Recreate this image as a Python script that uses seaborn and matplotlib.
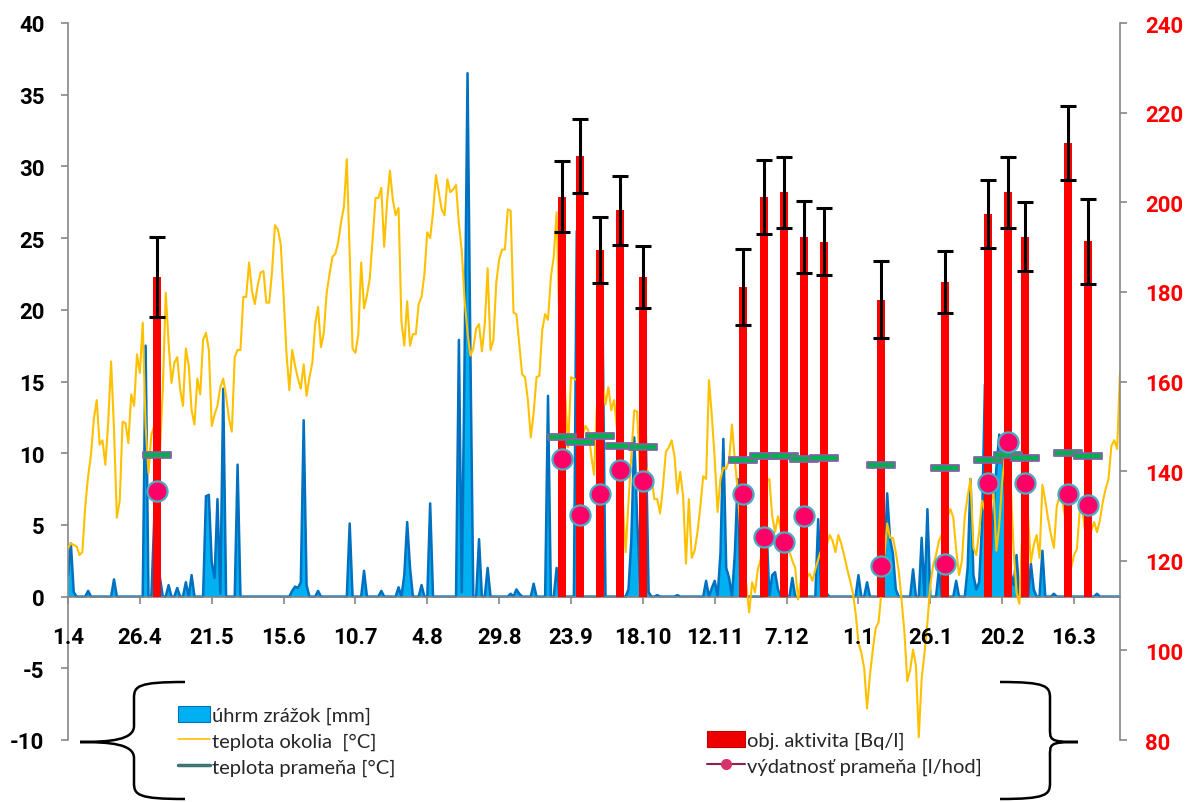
import numpy as np
import pandas as pd
import matplotlib
matplotlib.use("Agg")
import matplotlib.pyplot as plt
import seaborn as sns
from matplotlib.path import Path
from matplotlib.patches import PathPatch, Patch
from matplotlib.lines import Line2D

# ---------------- data ----------------
tick_labels = ["1.4", "26.4", "21.5", "15.6", "10.7", "4.8", "29.8", "23.9",
               "18.10", "12.11", "7.12", "1.1", "26.1", "20.2", "16.3"]
tick_days = [0, 25, 50, 75, 100, 125, 150, 175, 200, 225, 250, 275, 300, 325, 350]

# daily air temperature (teplota okolia), day 0 = 1.4
temp_air = [
    3.4, 3.7, 3.6, 3.5, 2.9, 3.1, 6.3, 8.4, 9.9, 12.4,
    13.7, 10.6, 10.9, 9.2, 12.2, 16.4, 11.7, 5.5, 6.7, 12.2,
    12.1, 10.7, 14.1, 13.3, 16.9, 15.6, 19.1, 11.9, 8.6, 11.3,
    11.9, 10.6, 10.2, 14.5, 21.2, 17.7, 14.9, 16.3, 16.7, 14.5,
    13.3, 17.3, 16.1, 13.0, 12.0, 15.2, 14.1, 17.9, 18.4, 17.2,
    11.9, 12.7, 13.3, 14.6, 15.2, 14.0, 12.4, 11.5, 16.7, 17.2,
    17.2, 20.9, 20.9, 23.3, 21.3, 20.4, 21.7, 22.6, 22.7, 20.5,
    20.5, 22.7, 25.9, 25.6, 24.6, 21.0, 17.0, 14.4, 17.2, 16.1,
    15.2, 14.5, 16.2, 14.0, 15.3, 16.3, 19.0, 20.2, 17.4, 18.4,
    21.2, 22.5, 23.7, 23.9, 24.7, 26.1, 27.2, 30.5, 23.8, 17.3,
    17.0, 18.3, 23.3, 20.1, 21.0, 22.2, 25.0, 27.8, 27.8, 28.5,
    24.4, 27.5, 29.7, 27.7, 26.6, 27.1, 19.2, 17.5, 20.6, 17.5,
    18.3, 18.3, 20.4, 20.9, 22.5, 25.4, 25.0, 26.8, 29.4, 28.2,
    27.0, 26.6, 29.1, 28.2, 28.4, 28.7, 26.0, 24.1, 20.6, 18.4,
    16.8, 17.3, 18.7, 19.0, 17.1, 19.0, 22.9, 17.2, 17.9, 21.9,
    23.5, 24.2, 24.2, 27.0, 26.9, 19.8, 19.7, 17.6, 15.5, 15.3,
    13.7, 11.1, 12.8, 15.3, 15.4, 18.6, 19.7, 19.3, 22.3, 23.7,
    26.8, 18.6, 17.7, 14.0, 10.4, 15.3, 15.2, 15.1, 13.4, 11.2,
    11.9, 11.6, 9.9, 8.5, 13.3, 16.2, 15.0, 13.4, 14.6, 13.0,
    13.7, 11.7, 9.6, 6.8, 3.1, 6.6, 9.9, 13.0, 12.9, 8.7,
    9.4, 9.1, 8.6, 8.3, 6.8, 6.8, 5.8, 7.7, 10.1, 10.4,
    10.9, 9.8, 7.2, 8.7, 7.0, 2.3, 6.8, 2.7, 3.2, 4.5,
    6.3, 8.4, 8.2, 15.1, 12.6, 9.6, 5.9, 8.2, 9.0, 8.9,
    9.5, 12.0, 9.5, 7.4, 4.4, 2.2, 0.8, -1.1, 1.0, 0.3,
    1.9, 2.6, 4.3, 8.0, 8.2, 5.6, 4.5, 5.6, 4.7, 4.3,
    3.6, 3.1, 2.5, 2.0, -0.2, 1.2, 1.5, 1.3, 1.6, 1.1,
    1.9, 2.6, 3.2, 2.8, 3.6, 4.3, 3.9, 3.1, 4.3, 3.7,
    2.9, 2.0, 1.2, 0.3, -1.1, -3.2, -3.9, -5.0, -7.8, -5.5,
    -3.7, -2.2, -1.8, 0.3, 2.6, 5.1, 4.1, 4.1, 3.1, 1.8,
    -0.2, -2.5, -5.9, -5.1, -3.7, -4.8, -9.8, -5.7, -3.9, -1.8,
    0.8, 2.2, 2.9, 3.9, 4.3, 4.8, 5.6, 6.1, 5.5, 3.3,
    1.5, 2.5, 5.6, 7.0, 8.2, 3.4, 2.9, 4.5, 6.7, 6.0,
    4.3, 6.6, 7.3, 3.2, 5.0, 8.0, 10.0, 11.5, 7.7, 3.2,
    0.3, -0.5, 4.5, 7.8, 5.6, 2.4, 3.6, 4.3, 2.7, 7.8,
    6.7, 5.4, 4.3, 3.4, 6.3, 7.0, 6.6, 5.4, 3.6, 2.0,
    2.9, 3.3, 6.0, 5.9, 4.3, 5.5, 4.6, 5.2, 4.5, 5.3,
    6.6, 7.5, 8.2, 10.5, 10.9, 10.3, 15.6,
]

# precipitation (úhrm zrážok) - days with rain and amount [mm]; other days 0
rain_days = [0, 1, 2, 7, 16, 27, 30, 32, 35, 38, 41, 43, 48, 49, 50, 51, 52, 53, 54, 59,
             78, 79, 80, 81, 82, 83, 87, 98, 103, 109, 115, 117, 118, 119, 123, 126,
             136, 137, 138, 139, 140, 143, 146, 154, 156, 157, 162, 167, 170, 177, 186,
             195, 196, 197, 198, 199, 200, 201, 202, 205, 212, 222, 224, 225, 227, 228,
             229, 230, 232, 233, 234, 243, 245, 246, 247, 252, 261, 262, 264, 275, 278,
             284, 285, 286, 287, 288, 294, 297, 299, 303, 309, 313, 314, 315, 316, 317,
             318, 319, 320, 321, 322, 323, 324, 325, 326, 327, 328, 329, 330, 335, 336,
             339, 343, 348, 358]
rain_mm = [1.5, 3.7, 0.3, 0.4, 1.2, 17.5, 5.4, 1.3, 0.8, 0.6, 1.0, 1.5, 7.0, 7.1, 2.4, 1.3, 6.8, 0.2, 14.5, 9.2,
           0.4, 0.7, 0.6, 1.0, 12.3, 0.8, 0.4, 5.1, 1.8, 0.4, 0.65, 1.5, 5.2, 2.0, 0.8, 6.5,
           17.9, 0.3, 17.0, 36.5, 17.0, 4.0, 2.0, 0.2, 0.5, 0.2, 0.9, 14.0, 2.0, 25.5, 19.0,
           0.5, 4.0, 11.1, 5.5, 1.0, 2.0, 11.5, 0.3, 0.1, 0.1, 1.1, 0.6, 1.1, 3.0, 11.0,
           2.0, 1.3, 3.0, 8.2, 0.5, 5.0, 1.5, 1.7, 0.5, 1.3, 5.4, 0.5, 0.2, 1.5, 1.0,
           2.0, 7.2, 4.0, 3.0, 0.5, 1.9, 4.1, 6.1, 1.9, 1.1, 2.0, 8.2, 1.5, 0.5, 1.0,
           5.0, 14.8, 4.0, 2.5, 6.0, 9.0, 11.3, 10.5, 7.0, 8.4, 1.6, 0.8, 2.9, 2.3, 0.5,
           3.2, 0.2, 0.3, 0.2]

# measurement days (spring)
meas_days = [31, 172, 178, 185, 192, 200, 235, 242, 249, 256, 263, 283, 305, 320, 327, 333, 348, 355]
activity = [183.3, 201.2, 210.3, 189.3, 198.2, 183.3, 181.1, 201.2, 202.2, 192.3, 191.2,
            178.2, 182.2, 197.3, 202.2, 192.3, 213.2, 191.3]
activity_err = [9.0, 7.9, 8.3, 7.4, 7.7, 7.0, 8.5, 8.3, 8.0, 8.0, 7.5, 8.6, 7.0, 7.6, 7.9, 7.7, 8.3, 9.5]
spring_temp = [9.9, 11.1, 10.8, 11.2, 10.5, 10.4, 9.5, 9.8, 9.8, 9.6, 9.7, 9.2, 9.0, 9.5, 9.9, 9.7, 10.0, 9.8]
spring_yield = [135.5, 142.8, 130.1, 134.9, 140.3, 137.9, 134.9, 125.3, 124.2, 130.0, np.nan,
                118.8, 119.2, 137.4, 146.4, 137.3, 134.9, 132.5]

# ---------------- style ----------------
sns.set_theme(style="white")
plt.rcParams['font.family'] = ['Lato', 'DejaVu Sans']
plt.rcParams['axes.unicode_minus'] = False

C_RAIN = "#00B0F0"
C_RAIN_EDGE = "#0070C0"
C_AIR = "#FFC000"
C_BAR = "#FF0000"
C_SPR_FACE = "#00B050"
C_SPR_EDGE = "#8064A2"
C_DOT = "#FF0066"
C_DOT_EDGE = "#4BACC6"
C_AXIS = "#868686"

L_MIN, L_MAX = -10, 40
R_MIN, R_MAX = 80, 240
X_MAX = len(temp_air) - 1

TICK_FONT = dict(fontfamily="Roboto", fontweight="bold", fontsize=16)

W, H = 1190, 803
fig = plt.figure(figsize=(W / 100, H / 100), dpi=100)
ax1 = fig.add_axes([68 / W, 1 - 741 / H, (1120 - 68) / W, (741 - 24) / H])

days = np.arange(len(temp_air))
rain = np.zeros(len(days))
rain[np.array(rain_days)] = rain_mm

df = pd.DataFrame({"day": days, "temp": temp_air, "rain": rain})

# precipitation area
ax1.fill_between(df["day"], df["rain"], 0, color=C_RAIN, linewidth=0, zorder=1)
sns.lineplot(data=df, x="day", y="rain", ax=ax1, color=C_RAIN_EDGE, linewidth=1.8,
             estimator=None, zorder=2)
# air temperature
sns.lineplot(data=df, x="day", y="temp", ax=ax1, color=C_AIR, linewidth=1.5,
             estimator=None, zorder=3)

ax1.set_xlim(0, X_MAX)
ax1.set_ylim(L_MIN, L_MAX)
ax1.set_xlabel("")
ax1.set_ylabel("")
for s in ["top", "right"]:
    ax1.spines[s].set_visible(False)
ax1.spines["bottom"].set_position(("data", 0))
for s in ["left", "bottom"]:
    ax1.spines[s].set_color(C_AXIS)
    ax1.spines[s].set_linewidth(1.2)
yt = np.arange(L_MIN, L_MAX + 1, 5)
ax1.set_yticks(yt)
ax1.set_yticklabels([str(v) for v in yt], color="black", **TICK_FONT)
ax1.set_xticks(tick_days)
ax1.set_xticklabels([])
# date labels, placed well below the zero line
for d, lab in zip(tick_days, tick_labels):
    ax1.annotate(lab, xy=(d, 0), xycoords="data", xytext=(0, -27.5),
                 textcoords="offset points", ha="center", va="center_baseline",
                 color="black", annotation_clip=False, **TICK_FONT)
ax1.grid(False)

# activity bars on right axis
ax2 = ax1.twinx()
bar_base = R_MIN + (0 - L_MIN) * (R_MAX - R_MIN) / (L_MAX - L_MIN)
ax2.bar(meas_days, np.array(activity) - bar_base, bottom=bar_base, width=2.8,
        color=C_BAR, linewidth=0, zorder=2)
ax2.errorbar(meas_days, activity, yerr=activity_err, fmt="none", ecolor="black",
             elinewidth=2.2, capsize=6, capthick=2.2, zorder=3)
ax2.set_ylim(R_MIN, R_MAX)
rt = np.arange(R_MIN, R_MAX + 1, 20)
ax2.set_yticks(rt)
ax2.set_yticklabels([str(v) for v in rt], color="#FF0000", **TICK_FONT)
for s in ["top", "left", "bottom"]:
    ax2.spines[s].set_visible(False)
ax2.spines["right"].set_color(C_AXIS)
ax2.spines["right"].set_linewidth(1.2)
ax2.grid(False)

# spring temperature markers (left scale)
ax3 = ax1.twinx()
rect = Path([(-1, -0.2), (1, -0.2), (1, 0.2), (-1, 0.2), (-1, -0.2)],
            [Path.MOVETO, Path.LINETO, Path.LINETO, Path.LINETO, Path.CLOSEPOLY])
sns.scatterplot(x=meas_days, y=spring_temp, ax=ax3, marker=rect, s=420,
                color=C_SPR_FACE, edgecolor=C_SPR_EDGE, linewidth=1.3, zorder=4)
ax3.set_ylim(L_MIN, L_MAX)
ax3.set_xlim(0, X_MAX)
ax3.axis("off")

# spring yield dots (right scale)
ax4 = ax1.twinx()
sns.scatterplot(x=meas_days, y=spring_yield, ax=ax4, marker="o", s=210,
                color=C_DOT, edgecolor=C_DOT_EDGE, linewidth=1.6, zorder=5)
ax4.set_ylim(R_MIN, R_MAX)
ax4.set_xlim(0, X_MAX)
ax4.axis("off")

# tick geometry
ax1.tick_params(axis="y", which="major", direction="out", length=5, width=1.2,
                color=C_AXIS, pad=12, left=True)
ax1.tick_params(axis="x", which="major", direction="out", length=5, width=1.2,
                color=C_AXIS, bottom=True)
ax2.tick_params(axis="y", direction="out", length=5, width=1.2, color=C_AXIS,
                pad=13, right=True)

# ---------------- legends ----------------
h_left = [Patch(facecolor=C_RAIN, edgecolor=C_RAIN_EDGE, linewidth=0.8),
          Line2D([], [], color=C_AIR, linewidth=1.2),
          Line2D([], [], color="#3E7473", linewidth=2.5)]
l_left = ["úhrm zrážok [mm]", "teplota okolia  [°C]", "teplota prameňa [°C]"]
leg1 = fig.legend(h_left, l_left, loc="center left",
                  bbox_to_anchor=(168 / W, 1 - 742 / H), frameon=False,
                  fontsize=14.5, handlelength=1.6, handleheight=0.8,
                  handletextpad=0.1, labelspacing=0.38, borderpad=0)

h_right = [Patch(facecolor="#EE0000", edgecolor="#C00000", linewidth=0.8),
           Line2D([], [], color="#8B2252", linewidth=1.5, marker="o",
                  markersize=7, markerfacecolor="#D6336C", markeredgecolor="#D6336C")]
l_right = ["obj. aktivita [Bq/l]", "výdatnosť prameňa [l/hod]"]
leg2 = fig.legend(h_right, l_right, loc="center left",
                  bbox_to_anchor=(697 / W, 1 - 754 / H), frameon=False,
                  fontsize=14.5, handlelength=1.9, handleheight=0.8,
                  handletextpad=0.1, labelspacing=0.38, borderpad=0)


# ---------------- braces (decoration) ----------------
def brace(x_end, x_mid, x_tip, y_top, y_mid, y_bot, r=16):
    s = 1 if x_mid < x_end else -1
    verts = [
        (x_end, y_top),
        (x_mid + s * 4, y_top), (x_mid, y_top + 4), (x_mid, y_top + r),
        (x_mid, y_mid - r),
        (x_mid, y_mid - 2), (x_tip + s * 30, y_mid), (x_tip, y_mid),
        (x_tip + s * 30, y_mid), (x_mid, y_mid + 2), (x_mid, y_mid + r),
        (x_mid, y_bot - r),
        (x_mid, y_bot - 4), (x_mid + s * 4, y_bot), (x_end, y_bot),
    ]
    codes = [Path.MOVETO,
             Path.CURVE4, Path.CURVE4, Path.CURVE4,
             Path.LINETO,
             Path.CURVE4, Path.CURVE4, Path.CURVE4,
             Path.CURVE4, Path.CURVE4, Path.CURVE4,
             Path.LINETO,
             Path.CURVE4, Path.CURVE4, Path.CURVE4]
    verts = [(vx / W, 1 - vy / H) for vx, vy in verts]
    p = PathPatch(Path(verts, codes), facecolor="none", edgecolor="black",
                  linewidth=1.8, transform=fig.transFigure, clip_on=False)
    fig.patches.append(p)


brace(x_end=185, x_mid=134, x_tip=80, y_top=683, y_mid=743, y_bot=800)
brace(x_end=1000, x_mid=1050, x_tip=1078, y_top=683, y_mid=743, y_bot=800)

fig.savefig("out.png", dpi=100)
